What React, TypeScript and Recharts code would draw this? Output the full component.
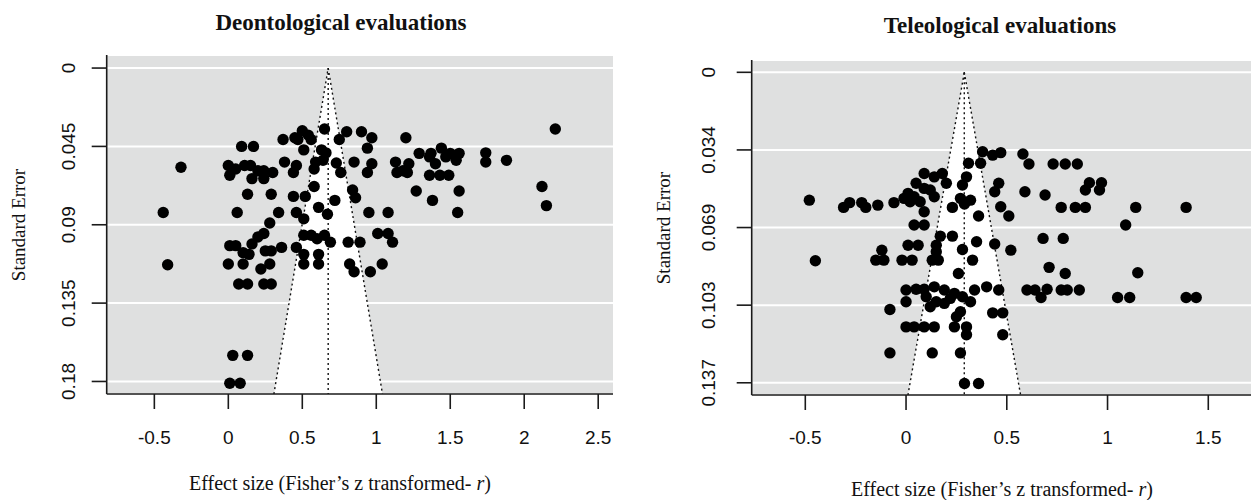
import React from "react";
import {
  CartesianGrid,
  ReferenceArea,
  ReferenceLine,
  Scatter,
  ScatterChart,
  XAxis,
  YAxis,
} from "recharts";

// Deontological panel: effect size (Fisher z) and its standard error
const deonEffect = [
  0.5, 0.54, 0.47, 0.56, 0.37, 0.45, 0.65, 0.8, 0.9, 0.97, 0.75, 1.2, 0.09, 0.17, 0.51, 0.63, 0.66, 0.94, 0.64, 0.59, 0.58,
  0.0, 0.01, 0.05, 0.11, 0.15, 0.2, 0.24, 0.3, 0.16, 0.24, 0.38, 0.46, 0.44, 0.73, 0.76, 0.85, 0.97, 0.94, -0.32,
  1.13, 1.18, 1.22, 1.29, 1.36, 1.44, 1.47, 1.36, 1.43, 1.49, 1.4, 1.54, 1.14, 1.21, 1.37, 1.5, 1.56, 1.74, 1.74, 1.88,
  2.12, 2.15, 2.21, 1.27, 1.38, 1.56, 1.55,
  0.13, 0.29, 0.44, 0.52, 0.58, 0.72, 0.84, 0.86, 0.06, 0.34, 0.46, 0.51, 0.61, 0.67, 0.95, 1.08, -0.44,
  0.28, 0.24, 0.2, 0.16, 0.01, 0.05, 0.1, 0.14, 0.25, 0.29, 0.36, 0.46, 0.51, 0.56, 0.6, 0.65, 0.69, 0.81, 0.89, 1.01,
  1.08, 1.11, 0.0, 0.1, 0.22, 0.28, 0.51, 0.51, 0.61, 0.61, 0.82, 0.85, 0.96, 1.04, 0.07, 0.13, 0.24, 0.29, -0.41,
  0.03, 0.13, 0.01, 0.08,
];
const deonSE = [
  0.036, 0.0385, 0.041, 0.041, 0.041, 0.04, 0.035, 0.0366, 0.0366, 0.04, 0.041, 0.04, 0.045, 0.045, 0.047, 0.047, 0.0487, 0.046, 0.053, 0.054, 0.058,
  0.056, 0.0616, 0.058, 0.056, 0.056, 0.059, 0.059, 0.06, 0.0635, 0.0635, 0.054, 0.056, 0.06, 0.0545, 0.06, 0.054, 0.055, 0.06, 0.057,
  0.054, 0.059, 0.055, 0.049, 0.051, 0.046, 0.051, 0.0616, 0.0616, 0.0616, 0.055, 0.053, 0.06, 0.06, 0.049, 0.049, 0.049, 0.0487, 0.054, 0.053,
  0.068, 0.079, 0.035, 0.0706, 0.076, 0.0706, 0.083,
  0.0725, 0.0725, 0.0737, 0.0737, 0.068, 0.076, 0.07, 0.0745, 0.083, 0.083, 0.083, 0.0866, 0.08, 0.084, 0.083, 0.083, 0.083,
  0.089, 0.095, 0.097, 0.101, 0.102, 0.102, 0.106, 0.107, 0.105, 0.105, 0.103, 0.103, 0.096, 0.096, 0.098, 0.096, 0.1, 0.1, 0.1, 0.095,
  0.095, 0.1, 0.1125, 0.1125, 0.1154, 0.1125, 0.107, 0.1125, 0.107, 0.1125, 0.1125, 0.117, 0.117, 0.1125, 0.124, 0.124, 0.124, 0.124, 0.113,
  0.165, 0.165, 0.181, 0.181,
];

// Teleological panel
const teleEffect = [
  0.38, 0.43, 0.47, 0.31, 0.37, 0.58, 0.61, 0.73, 0.79, 0.85,
  0.09, 0.14, 0.18, 0.2, 0.05, 0.09, 0.12, 0.01, 0.04, 0.14, 0.02, 0.07, 0.09, 0.3, 0.28, 0.46, 0.44, 0.59, 0.69,
  0.27, 0.32, 0.23, 0.29, 0.47, 0.51, 0.36, 0.77, 0.84,
  -0.31, -0.28, -0.22, -0.2, -0.14, -0.06, -0.01, -0.48,
  0.04, 0.09, 0.17, 0.23, 0.01, 0.06, 0.15, 0.15, -0.12, -0.15, -0.11, -0.02, 0.03, 0.13, 0.16, 0.28, 0.33, 0.35,
  0.44, 0.52, 0.68, 0.78, 0.71, 0.79, 0.26, -0.45, 1.15,
  0.0, 0.05, 0.09, 0.14, 0.19, 0.24, 0.28, 0.32, 0.34, 0.4, 0.46, 0.0, 0.1, 0.12, 0.15, 0.19, 0.22, 0.27, 0.25,
  -0.08, 0.43, 0.48,
  0.6, 0.64, 0.7, 0.67, 0.77, 0.8, 0.86, 1.05, 1.11, 1.39, 1.44,
  0.0, 0.04, 0.09, 0.14, 0.24, 0.3, 0.3, 0.48, -0.08, 0.13, 0.27, 0.29, 0.36,
  0.91, 0.97, 0.89, 0.96, 0.89, 1.14, 1.39, 1.09,
];
const teleSE = [
  0.0351, 0.0366, 0.0355, 0.0402, 0.0402, 0.0361, 0.0405, 0.0405, 0.0405, 0.0405,
  0.0447, 0.0462, 0.0447, 0.049, 0.049, 0.0513, 0.052, 0.0535, 0.055, 0.055, 0.0572, 0.0572, 0.0616, 0.0462, 0.0498, 0.049, 0.0528, 0.0528, 0.0542,
  0.0557, 0.0565, 0.0597, 0.0582, 0.0594, 0.0635, 0.0635, 0.0597, 0.0597,
  0.0597, 0.0576, 0.0576, 0.0597, 0.0587, 0.0576, 0.0557, 0.0565,
  0.0675, 0.0675, 0.0724, 0.0724, 0.0764, 0.0764, 0.0764, 0.0793, 0.0786, 0.083, 0.083, 0.083, 0.083, 0.083, 0.083, 0.0783, 0.083, 0.0749,
  0.0759, 0.0786, 0.0734, 0.0734, 0.0862, 0.0889, 0.0889, 0.0833, 0.0886,
  0.0962, 0.0959, 0.0959, 0.0948, 0.0962, 0.0977, 0.0992, 0.1014, 0.0962, 0.0948, 0.0962, 0.1014, 0.0992, 0.1036, 0.1014, 0.1021, 0.0999, 0.1058, 0.108,
  0.1048, 0.1063, 0.1063,
  0.0962, 0.0962, 0.0959, 0.0995, 0.0962, 0.0962, 0.0962, 0.0995, 0.0995, 0.0995, 0.0995,
  0.1125, 0.1125, 0.1125, 0.1125, 0.1125, 0.1125, 0.116, 0.116, 0.124, 0.124, 0.124, 0.1375, 0.1375,
  0.0488, 0.0488, 0.052, 0.052, 0.0597, 0.0597, 0.0597, 0.0675,
];

const deonXTicks = [-0.5, 0, 0.5, 1, 1.5, 2, 2.5];
const deonYTicks = [0, 0.045, 0.09, 0.135, 0.18];
const deonYLabels = ["0", "0.045", "0.09", "0.135", "0.18"];
const teleXTicks = [-0.5, 0, 0.5, 1, 1.5];
const teleYTicks = [0, 0.0343, 0.0686, 0.1029, 0.1372];
const teleYLabels = ["0", "0.034", "0.069", "0.103", "0.137"];

const deonEstimate = 0.675;
const teleEstimate = 0.289;

const BG = "#dfe0e0";
const AXIS = "#1a1a1a";
const SANS = "'Liberation Sans', Arial, sans-serif";
const SERIF = "'Liberation Serif', 'Times New Roman', serif";
const AXIS_W = 60;
const AXIS_H = 60;

type PanelProps = {
  effect: number[];
  se: number[];
  estimate: number;
  xDomain: [number, number];
  yDomain: [number, number];
  xTicks: number[];
  yTicks: number[];
  yLabels: string[];
  width: number;
  plot: { left: number; top: number; right: number; bottom: number };
  yLabelX: number;
};

function Funnel(props: any) {
  const { x, y, width, height } = props;
  const pts = `${x},${y + height} ${x + width / 2},${y} ${x + width},${y + height}`;
  return <polygon points={pts} fill="#ffffff" stroke="none" />;
}

function Panel({ effect, se, estimate, xDomain, yDomain, xTicks, yTicks, yLabels, width, plot, yLabelX }: PanelProps) {
  const data = effect.map((x, i) => ({ x, y: se[i] }));
  const seMax = yDomain[1];
  const half = 1.96 * seMax;
  const margin = {
    top: plot.top,
    left: plot.left - AXIS_W,
    right: width - plot.right,
    bottom: 500 - plot.bottom - AXIS_H,
  };

  const XTick = (p: any) => (
    <text x={p.x} y={444} textAnchor="middle" fontSize={19} fontFamily={SANS} fill="#111">
      {String(p.payload.value)}
    </text>
  );
  const YTick = (p: any) => (
    <text
      x={yLabelX}
      y={p.y}
      transform={`rotate(-90 ${yLabelX} ${p.y})`}
      textAnchor="middle"
      fontSize={19}
      fontFamily={SANS}
      fill="#111"
    >
      {yLabels[p.index] ?? String(p.payload.value)}
    </text>
  );

  return (
    <ScatterChart width={width} height={500} margin={margin}>
      <CartesianGrid vertical={false} stroke="#ffffff" strokeWidth={2} fill={BG} fillOpacity={1} />
      <XAxis
        type="number"
        dataKey="x"
        domain={xDomain}
        ticks={xTicks}
        allowDataOverflow
        height={AXIS_H}
        tickSize={15}
        axisLine={{ stroke: AXIS, strokeWidth: 1.6 }}
        tickLine={{ stroke: AXIS, strokeWidth: 1.6 }}
        tick={<XTick />}
      />
      <YAxis
        type="number"
        dataKey="y"
        domain={yDomain}
        ticks={yTicks}
        reversed
        allowDataOverflow
        width={AXIS_W}
        tickSize={15}
        axisLine={{ stroke: AXIS, strokeWidth: 1.6 }}
        tickLine={{ stroke: AXIS, strokeWidth: 1.6 }}
        tick={<YTick />}
      />
      <ReferenceArea x1={estimate - half} x2={estimate + half} y1={0} y2={seMax} shape={<Funnel />} />
      <ReferenceLine
        segment={[{ x: estimate - half, y: seMax }, { x: estimate, y: 0 }]}
        stroke="#111"
        strokeWidth={1.4}
        strokeDasharray="2 3"
      />
      <ReferenceLine
        segment={[{ x: estimate, y: 0 }, { x: estimate + half, y: seMax }]}
        stroke="#111"
        strokeWidth={1.4}
        strokeDasharray="2 3"
      />
      <ReferenceLine
        segment={[{ x: estimate, y: 0 }, { x: estimate, y: seMax }]}
        stroke="#111"
        strokeWidth={1.4}
        strokeDasharray="2 3"
      />
      <Scatter
        data={data}
        isAnimationActive={false}
        shape={(p: any) => <circle cx={p.cx} cy={p.cy} r={5.7} fill="#000" />}
      />
    </ScatterChart>
  );
}

export default function App() {
  return (
    <div style={{ position: "absolute", left: 0, top: 0, width: 1251, height: 500, background: "#fff", overflow: "hidden" }}>
      <div style={{ position: "absolute", left: 0, top: 0 }}>
        <Panel
          effect={deonEffect}
          se={deonSE}
          estimate={deonEstimate}
          xDomain={[-0.822, 2.6]}
          yDomain={[-0.0075, 0.1872]}
          xTicks={deonXTicks}
          yTicks={deonYTicks}
          yLabels={deonYLabels}
          width={640}
          plot={{ left: 106.7, top: 55, right: 613, bottom: 394 }}
          yLabelX={75.5}
        />
      </div>
      <div style={{ position: "absolute", left: 640, top: 0 }}>
        <Panel
          effect={teleEffect}
          se={teleSE}
          estimate={teleEstimate}
          xDomain={[-0.766, 1.712]}
          yDomain={[-0.00544, 0.1426]}
          xTicks={teleXTicks}
          yTicks={teleYTicks}
          yLabels={teleYLabels}
          width={611}
          plot={{ left: 111.7, top: 60, right: 611, bottom: 395 }}
          yLabelX={75.5}
        />
      </div>
      <svg width={1251} height={500} style={{ position: "absolute", left: 0, top: 0, pointerEvents: "none" }}>
        <text x={341} y={30} textAnchor="middle" fontFamily={SERIF} fontWeight="bold" fontSize={23} fill="#111">
          Deontological evaluations
        </text>
        <text x={1000} y={33} textAnchor="middle" fontFamily={SERIF} fontWeight="bold" fontSize={23} fill="#111">
          Teleological evaluations
        </text>
        <text x={25} y={225} transform="rotate(-90 25 225)" textAnchor="middle" fontFamily={SERIF} fontSize={19} fill="#111">
          Standard Error
        </text>
        <text x={670} y={228} transform="rotate(-90 670 228)" textAnchor="middle" fontFamily={SERIF} fontSize={19} fill="#111">
          Standard Error
        </text>
        <text x={340} y={490} textAnchor="middle" fontFamily={SERIF} fontSize={20} fill="#111">
          Effect size (Fisher’s z transformed- <tspan fontStyle="italic">r</tspan>)
        </text>
        <text x={1002} y={496} textAnchor="middle" fontFamily={SERIF} fontSize={20} fill="#111">
          Effect size (Fisher’s z transformed- <tspan fontStyle="italic">r</tspan>)
        </text>
      </svg>
    </div>
  );
}
